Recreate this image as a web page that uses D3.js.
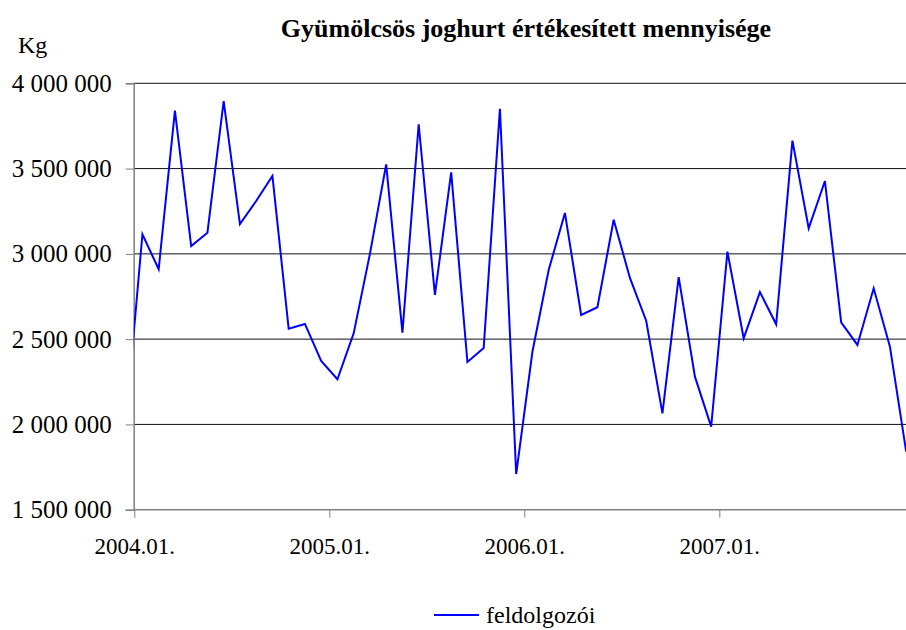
<!DOCTYPE html>
<html>
<head>
<meta charset="utf-8">
<script src="https://cdn.jsdelivr.net/npm/d3@7"></script>
<style>
  body { margin: 0; background: #fff; }
  svg text { font-family: 'Liberation Serif', 'Times New Roman', Times, serif; fill: #000; }
</style>
</head>
<body>
<svg id="chart" width="906" height="630"></svg>
<script>
// monthly sold quantity (kg), "feldolgozói"
const v2003 = [2030000] // 2003.12, only the clipped tail shows
const v2004 = [3115000, 2910000, 3840000, 3046000, 3124000, 3896000, 3175000, 3310000, 3457000, 2561000, 2589000, 2372000]
const v2005 = [2265000, 2534000, 3000000, 3525000, 2538000, 3760000, 2759000, 3478000, 2366000, 2448000, 3851000, 1709000]
const v2006 = [2426000, 2905000, 3240000, 2642000, 2687000, 3200000, 2859000, 2608000, 2065000, 2864000, 2280000, 1987000]
const v2007 = [3013000, 2505000, 2776000, 2587000, 3664000, 3150000, 3427000, 2599000, 2466000, 2798000, 2456000, 1840000]

const tickMonths = [0, 12, 24, 36] // months since 2004.01
const tickLabels = ['2004.01.', '2005.01.', '2006.01.', '2007.01.']
const yTicks = [1500000, 2000000, 2500000, 3000000, 3500000, 4000000]
const seriesName = 'feldolgozói'

const dim = { left: 133.7, right: 906, top: 83.3, bottom: 509.7 }

const data = [].concat(v2003, v2004, v2005, v2006, v2007)
  .map((v, i) => ({ m: i - 1 + 0.5, v })) // points sit mid-month

const svg = d3.select('#chart')

const x = d3.scaleLinear()
  .domain([0, 48])
  .range([134.3, 134.3 + 48 * 16.25])

const y = d3.scaleLinear()
  .domain([1500000, 4000000])
  .range([dim.bottom, dim.top])

const fmt = (d) => d3.format(',')(d).replace(/,/g, ' ')

// grid lines
svg.append('g')
  .selectAll('line')
  .data(yTicks.filter((d) => d > 1500000))
  .join('line')
    .attr('x1', dim.left).attr('x2', dim.right)
    .attr('y1', (d) => y(d)).attr('y2', (d) => y(d))
    .attr('stroke', '#111')
    .attr('stroke-width', 1)

// y axis
const yAxis = svg.append('g')
  .attr('transform', `translate(${dim.left},0)`)
  .call(d3.axisLeft(y).tickValues(yTicks).tickFormat(fmt).tickSize(8).tickPadding(14))
yAxis.attr('font-family', null)
yAxis.select('.domain').attr('stroke', '#808080').attr('stroke-width', 1.5)
yAxis.selectAll('.tick line').attr('stroke', '#808080')
yAxis.selectAll('text').attr('font-size', 25)

// x axis
const xAxis = svg.append('g')
  .attr('transform', `translate(0,${dim.bottom})`)
  .call(d3.axisBottom(x).tickValues(tickMonths)
    .tickFormat((d, i) => tickLabels[i]).tickSize(8).tickPadding(20))
xAxis.attr('font-family', null)
xAxis.select('.domain')
  .attr('d', `M${dim.left},0H${dim.right}`)
  .attr('stroke', '#808080').attr('stroke-width', 1.5)
xAxis.selectAll('.tick line').attr('stroke', '#808080')
xAxis.selectAll('text').attr('font-size', 23)

// line, clipped to the plot area
svg.append('clipPath')
  .attr('id', 'plotClip')
  .append('rect')
    .attr('x', dim.left).attr('y', 0)
    .attr('width', dim.right - dim.left).attr('height', 630)

const line = d3.line()
  .x((d) => x(d.m))
  .y((d) => y(d.v))

svg.append('path')
  .datum(data)
  .attr('clip-path', 'url(#plotClip)')
  .attr('fill', 'none')
  .attr('stroke', '#0000ff')
  .attr('stroke-width', 2)
  .attr('d', line)

// title and unit
svg.append('text')
  .attr('x', 526).attr('y', 37)
  .attr('text-anchor', 'middle')
  .attr('font-weight', 'bold')
  .attr('font-size', 26)
  .text('Gyümölcsös joghurt értékesített mennyisége')

svg.append('text')
  .attr('x', 18).attr('y', 53)
  .attr('font-size', 24)
  .text('Kg')

// legend
const legend = svg.append('g').attr('transform', 'translate(434,615)')
legend.append('line')
  .attr('x1', 0).attr('x2', 45)
  .attr('stroke', '#0000ff').attr('stroke-width', 2)
legend.append('text')
  .attr('x', 52).attr('y', 8)
  .attr('font-size', 24)
  .text(seriesName)
</script>
</body>
</html>
